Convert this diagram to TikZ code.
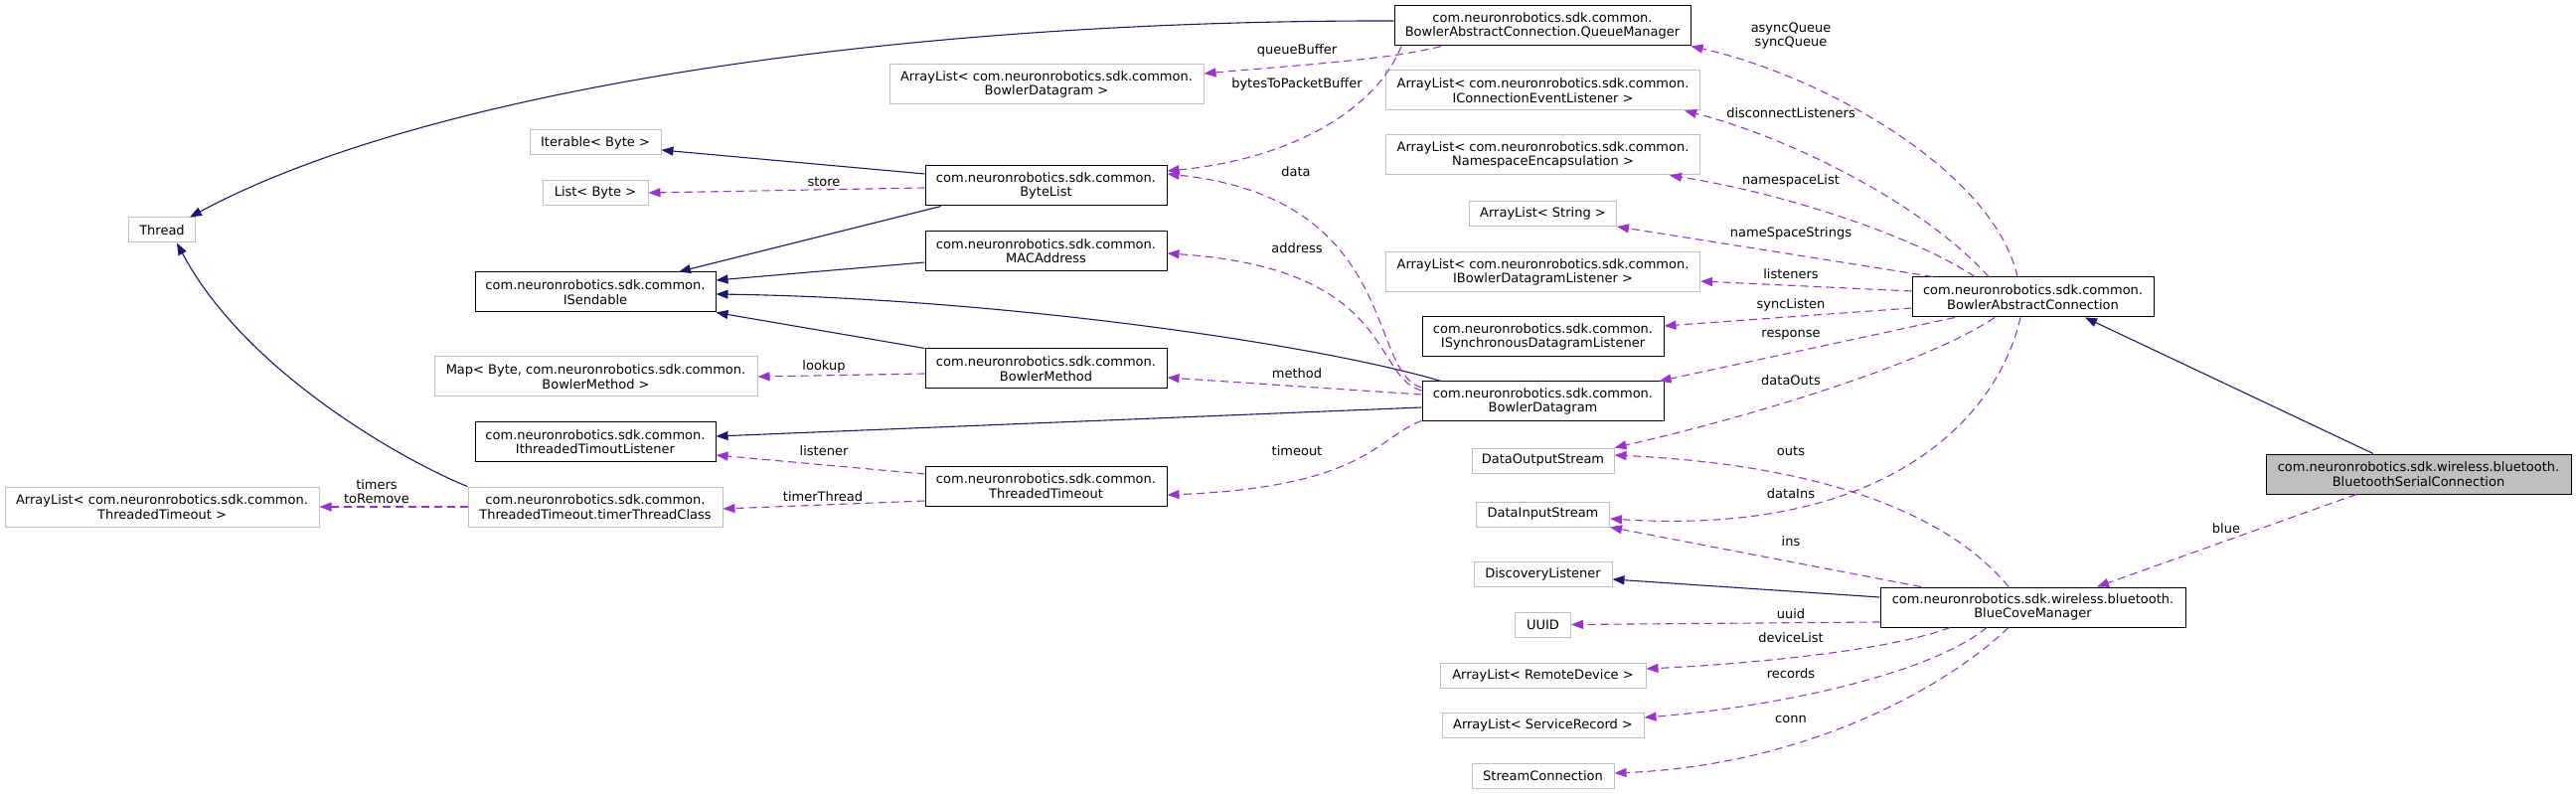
\documentclass[tikz,border=0pt]{standalone}
\usepackage{fontspec}
\setmainfont{DejaVu Sans}
\usetikzlibrary{arrows.meta, calc}
\definecolor{edgenavy}{RGB}{25,25,112}
\definecolor{edgeorchid}{RGB}{154,50,205}
\definecolor{boxgray}{RGB}{191,191,191}
\newcommand\doxfont{\fontsize{13}{14.6}\selectfont}
\tikzset{
  cls/.style={
    draw=black,
    fill=white,
    line width=1pt,
    align=center,
    minimum height=25,
    inner xsep=4pt,
    inner ysep=2pt,
    font=\doxfont
  },
  extcls/.style={cls, draw=boxgray},
  focus/.style={cls, fill=boxgray},
  twoline/.style={minimum height=40},
  inh/.style={-{Triangle[length=12pt,width=9pt]}, draw=edgenavy, line width=1.1pt},
  use/.style={-{Triangle[length=12pt,width=9pt]}, draw=edgeorchid, line width=1.1pt, dash pattern=on 8pt off 5pt},
  lbl/.style={font=\doxfont, align=center, inner sep=1pt}
}

\begin{document}
\begin{tikzpicture}[x=1pt,y=-1pt]
    \useasboundingbox (0,0) rectangle (2592,799);
    % left column
    \node[extcls, minimum width=67] (thread) at (163,231.5) {Thread};
    \node[extcls, twoline, minimum width=316] (altimeout) at (163,510) {ArrayList< com.neuronrobotics.sdk.common.\\ThreadedTimeout >};
    \node[extcls, minimum width=132] (iterable) at (599,143.5) {Iterable< Byte >};
    \node[extcls, minimum width=106] (listbyte) at (599,194) {List< Byte >};
    \node[cls, twoline, minimum width=242] (isendable) at (599,294) {com.neuronrobotics.sdk.common.\\ISendable};
    \node[extcls, twoline, minimum width=325] (mapbyte) at (599.5,379) {Map< Byte, com.neuronrobotics.sdk.common.\\BowlerMethod >};
    \node[cls, twoline, minimum width=242] (itimlis) at (599,444.5) {com.neuronrobotics.sdk.common.\\IthreadedTimoutListener};
    \node[extcls, twoline, minimum width=256] (timerclass) at (599,510) {com.neuronrobotics.sdk.common.\\ThreadedTimeout.timerThreadClass};
    \node[extcls, twoline, minimum width=316] (alqueue) at (1053,85) {ArrayList< com.neuronrobotics.sdk.common.\\BowlerDatagram >};
    \node[cls, twoline, minimum width=243] (bytelist) at (1052.5,187) {com.neuronrobotics.sdk.common.\\ByteList};
    \node[cls, twoline, minimum width=243] (macaddr) at (1052.5,252.5) {com.neuronrobotics.sdk.common.\\MACAddress};
    \node[cls, twoline, minimum width=243] (bmethod) at (1052.5,371) {com.neuronrobotics.sdk.common.\\BowlerMethod};
    \node[cls, twoline, minimum width=243] (ttimeout) at (1052.5,489) {com.neuronrobotics.sdk.common.\\ThreadedTimeout};
    % middle column
    \node[cls, twoline, minimum width=298] (queuemgr) at (1552,26) {com.neuronrobotics.sdk.common.\\BowlerAbstractConnection.QueueManager};
    \node[extcls, twoline, minimum width=316] (alconn) at (1552.5,91) {ArrayList< com.neuronrobotics.sdk.common.\\IConnectionEventListener >};
    \node[extcls, twoline, minimum width=316] (alns) at (1552.5,156) {ArrayList< com.neuronrobotics.sdk.common.\\NamespaceEncapsulation >};
    \node[extcls, minimum width=148] (alstr) at (1552.5,215) {ArrayList< String >};
    \node[extcls, twoline, minimum width=316] (albdl) at (1552.5,274) {ArrayList< com.neuronrobotics.sdk.common.\\IBowlerDatagramListener >};
    \node[cls, twoline, minimum width=243] (isync) at (1552.5,339) {com.neuronrobotics.sdk.common.\\ISynchronousDatagramListener};
    \node[cls, twoline, minimum width=243] (bdatagram) at (1552.5,404) {com.neuronrobotics.sdk.common.\\BowlerDatagram};
    \node[extcls, minimum width=143] (dout) at (1552.5,463.5) {DataOutputStream};
    \node[extcls, minimum width=134] (din) at (1552.5,517.5) {DataInputStream};
    \node[extcls, minimum width=139] (dlistener) at (1552.5,578) {DiscoveryListener};
    \node[extcls, minimum width=56] (uuid) at (1552.5,628.5) {UUID};
    \node[extcls, minimum width=207] (alremote) at (1552.5,679.5) {ArrayList< RemoteDevice >};
    \node[extcls, minimum width=203] (alrecord) at (1552.5,729.5) {ArrayList< ServiceRecord >};
    \node[extcls, minimum width=143] (sconn) at (1552.5,780.5) {StreamConnection};
    % right column
    \node[cls, twoline, minimum width=243] (abconn) at (2045.5,299) {com.neuronrobotics.sdk.common.\\BowlerAbstractConnection};
    \node[cls, twoline, minimum width=307] (bcm) at (2045.5,611) {com.neuronrobotics.sdk.wireless.bluetooth.\\BlueCoveManager};
    \node[focus, twoline, minimum width=307] (btserial) at (2433.5,477) {com.neuronrobotics.sdk.wireless.bluetooth.\\BluetoothSerialConnection};

    % inheritance
    \draw[inh] ([yshift=5]queuemgr.west) .. controls (900,20) and (430,90) .. ([xshift=-6]thread.north east);
    \draw[inh] (timerclass.north west) .. controls (420,470) and (250,380) .. ([xshift=15]thread.south);
    \draw[inh] ([yshift=12]bytelist.west) -- ([yshift=-7.5]iterable.east);
    \draw[inh] ([xshift=-105.5]bytelist.south) -- ([xshift=84]isendable.north);
    \draw[inh] ([yshift=-11.5]macaddr.west) -- ([yshift=12]isendable.east);
    \draw[inh] ([xshift=-102.5]bdatagram.north) .. controls (1320,345) and (1000,300) .. ([yshift=-2]isendable.east);
    \draw[inh] (bmethod.north west) -- (isendable.south east);
    \draw[inh] ([yshift=-6]bdatagram.west) -- ([yshift=5.5]itimlis.east);
    \draw[inh] ([yshift=10]bcm.west) -- ([yshift=-5]dlistener.east);
    \draw[inh] ([xshift=-45.5]btserial.north) -- ([xshift=52.5]abconn.south);

    % members
    \draw[use] ([xshift=-102]queuemgr.south) .. controls (1400,60) and (1300,66) .. ([yshift=11]alqueue.east);
    \draw[use] ([xshift=-142]queuemgr.south) .. controls (1385,110) and (1300,160) .. ([yshift=15]bytelist.east);
    \draw[use] ([yshift=14]bdatagram.west) .. controls (1375,375) and (1410,200) .. ([yshift=12]bytelist.east);
    \draw[use] ([yshift=11]bdatagram.west) .. controls (1380,380) and (1405,270) .. ([yshift=-2.5]macaddr.east);
    \draw[use] ([yshift=7]bdatagram.west) -- ([yshift=-9]bmethod.east);
    \draw[use] ([yshift=1]bdatagram.south west) .. controls (1385,440) and (1375,490) .. ([yshift=-9]ttimeout.east);
    \draw[use] ([yshift=-2]bytelist.west) -- (listbyte.east);
    \draw[use] ([yshift=-5]bmethod.west) -- (mapbyte.east);
    \draw[use] ([yshift=12]ttimeout.west) -- ([yshift=-13.5]itimlis.east);
    \draw[use] ([yshift=-15]ttimeout.west) -- ([yshift=-2]timerclass.east);
    \draw[use] (timerclass.west) -- (altimeout.east);

    \draw[use] ([xshift=-15.5]abconn.north) .. controls (2005,170) and (1830,75) .. (queuemgr.south east);
    \draw[use] ([xshift=-44.5]abconn.north) .. controls (1930,200) and (1790,135) .. ([xshift=-16]alconn.south east);
    \draw[use] ([xshift=-58.5]abconn.north) .. controls (1930,240) and (1800,195) .. ([xshift=-31]alns.south east);
    \draw[use] ([xshift=-100.5]abconn.north) -- (alstr.south east);
    \draw[use] ([yshift=6]abconn.west) -- ([yshift=-9]albdl.east);
    \draw[use] ([yshift=-11]abconn.west) -- ([yshift=11]isync.east);
    \draw[use] ([xshift=-78.5]abconn.south) -- ([xshift=-5]bdatagram.north east);
    \draw[use] ([xshift=-38.5]abconn.south) .. controls (1940,365) and (1760,420) .. (dout.north east);
    \draw[use] ([xshift=-12.5]abconn.south) .. controls (2010,420) and (1900,540) .. ([yshift=-4.5]din.east);

    \draw[use] ([xshift=-24.5]bcm.north) .. controls (1980,540) and (1880,470) .. ([yshift=5.5]dout.east);
    \draw[use] ([xshift=-112.5]bcm.north) -- (din.south east);
    \draw[use] ([yshift=-15]bcm.west) -- (uuid.east);
    \draw[use] ([xshift=-83.5]bcm.south) .. controls (1900,655) and (1760,668) .. ([yshift=6.5]alremote.east);
    \draw[use] ([xshift=-46.5]bcm.south) .. controls (1940,680) and (1780,712) .. ([yshift=7.5]alrecord.east);
    \draw[use] ([xshift=-24.5]bcm.south) .. controls (1960,690) and (1820,770) .. ([yshift=2.5]sconn.east);
    \draw[use] ([xshift=-62.5]btserial.south) -- ([xshift=64.5]bcm.north);

    % member names
    \node[lbl] (lqueue) at (1305,51) {queueBuffer};
    \node[lbl] (lbytes) at (1305,85) {bytesToPacketBuffer};
    \node[lbl] (ldata) at (1304,173) {data};
    \node[lbl] (laddr) at (1305,250) {address};
    \node[lbl] (lmethod) at (1305,376) {method};
    \node[lbl] (ltimeout) at (1305,454) {timeout};
    \node[lbl] (lstore) at (829,183) {store};
    \node[lbl] (llookup) at (829,369) {lookup};
    \node[lbl] (llistener) at (829,454) {listener};
    \node[lbl] (ltimerthr) at (828,500) {timerThread};
    \node[lbl] (ltimers) at (379,494.5) {timers\\toRemove};
    \node[lbl] (lasync) at (1802,36) {asyncQueue\\syncQueue};
    \node[lbl] (ldisc) at (1802,114) {disconnectListeners};
    \node[lbl] (lnslist) at (1802,182) {namespaceList};
    \node[lbl] (lnsstr) at (1802,235) {nameSpaceStrings};
    \node[lbl] (llisteners) at (1802,276) {listeners};
    \node[lbl] (lsync) at (1802,307) {syncListen};
    \node[lbl] (lresp) at (1802,337) {response};
    \node[lbl] (ldouts) at (1802,383) {dataOuts};
    \node[lbl] (louts) at (1802,454) {outs};
    \node[lbl] (ldins) at (1802,497) {dataIns};
    \node[lbl] (lins) at (1802,545) {ins};
    \node[lbl] (luuid) at (1802,618) {uuid};
    \node[lbl] (ldevice) at (1802,642) {deviceList};
    \node[lbl] (lrecords) at (1802,678) {records};
    \node[lbl] (lconn) at (1802,724) {conn};
    \node[lbl] (lblue) at (2240,532) {blue};
\end{tikzpicture}
\end{document}
